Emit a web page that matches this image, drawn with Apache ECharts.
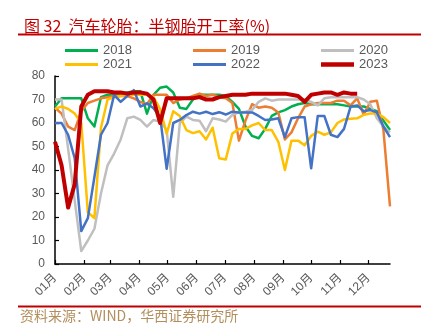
<!DOCTYPE html>
<html>
<head>
<meta charset="utf-8">
<script src="https://cdn.jsdelivr.net/npm/echarts@6/dist/echarts.min.js"></script>
<style>
  html, body { margin: 0; padding: 0; background: #ffffff; }
  #chart { width: 428px; height: 329px; }
</style>
</head>
<body>
<div id="chart"></div>
<script>
// Week positions (day of year) and month boundaries for the x axis
const weekDays = [0,7,14,21,28,35,42,49,56,63,70,77,84,91,98,105,112,119,126,133,140,147,154,161,168,175,182,189,196,203,210,217,224,231,238,245,252,259,266,273,280,287,294,301,308,315,322,329,336,343,350,357];
const monthStarts = [0,31,59,90,120,151,181,212,243,273,304,334];
const monthLabels = ['01月','02月','03月','04月','05月','06月','07月','08月','09月','10月','11月','12月'];
const yTicks = [0,10,20,30,40,50,60,70,80];

// Weekly semi-steel tyre operating rate (%), one array per year
const s2018 = [67,70.5,70.5,70.5,70.5,62,58.5,71,72,72,72.5,73,73.5,73.5,64,72,75,75.5,73,66.5,66,70,72,72,72,72,71.5,69,66,58.5,54.5,53.5,57.5,63,64.5,65.5,67,68,68.5,68,68,68,68,68,67.5,67,67,67,66,65,61,57];
const s2019 = [66.5,64,58.5,57,65,68.5,69.5,70.5,71,71.5,71.5,71.5,70.5,69,68,72,72,72,68.5,70,70.5,71.5,72.5,71.5,72,71,70.5,68.5,52.5,61,68,66.5,67,66.5,64.5,53,56,62,67,68,68.5,68.5,68.5,69.5,69.5,67.5,70.5,63.5,69,69.5,57,24.5];
const s2020 = [70,70,49,27,5.5,10,15,30,42,47,53,62,62.7,61.3,58.5,61.3,60.6,57,28.6,60,62.7,61.3,61,56.5,62,61.5,60.6,63.5,64.5,64.8,65.5,69,70.5,69.5,70,70,70,70,70,69,67.5,70.5,71,71,71,71,71,70,68,62,58.5,56];
const s2021 = [66,67,66,64,60,22,19.5,58,70,71,71.5,72,72,72,72,71,66,55.5,65,63,57,55.7,56.5,53,58,45,44.5,55.5,57.5,57.5,59,60,57,57,52,40,52.5,52.5,50.5,54.5,56.3,55,56,60,61.5,61.8,62,63.5,64,64,62.5,60];
const s2022 = [60,60,55,45,14,19.5,37,55,60,72,69,71.5,74,67,68.4,66.3,62.7,40.5,60,61.3,63.4,64.8,64,64.8,63.8,64.6,63.6,64.8,64.5,64.5,64.5,63,61.3,61.5,62,54,62,62.5,62.5,40.7,63,63,55,54,57.5,67,67.5,65,65.5,64.5,58.5,54];
const s2023 = [52,42,24,34,67,72,73.5,73.5,73.5,73,73,72.5,73,73,72.5,70,60,70.5,70.5,70.5,70.5,70.5,71,70,70,71,71.5,72,72,72,72.5,72.5,72.5,72.5,72.5,72.5,72,71.5,69,72,72.5,73,73,72,73,72.5,72.5];

const seriesNames = ['2018','2019','2020','2021','2022','2023'];
const seriesValues = [s2018, s2019, s2020, s2021, s2022, s2023];
const seriesColors = ['#00B050','#ED7D31','#BFBFBF','#FFC000','#4472C4','#C00000'];
const seriesWidths = [2.5,2.5,2.5,2.5,2.5,4];

const FONT = "'Liberation Sans', 'Noto Sans CJK SC', sans-serif";
const CJK = "'Noto Sans CJK SC', sans-serif";
const GREY = '#595959';

// Flat bar icons for the legend: a thin one, and a thicker one for 2023
const THIN_ICON = 'path://M0,0H33V3H0Z';
const THICK_ICON = 'path://M0,0H33V4.5H0Z';

function pairs(values) {
  return values.map((v, i) => [weekDays[i], v]);
}

function legendItem(name) {
  return { name: name, icon: name === '2023' ? THICK_ICON : THIN_ICON };
}

const chart = echarts.init(document.getElementById('chart'), null, { renderer: 'canvas' });

const legendBase = {
  orient: 'vertical',
  top: 39,
  itemWidth: 33,
  itemHeight: 14,
  itemGap: 1,
  textStyle: { color: GREY, fontSize: 13, fontFamily: FONT },
  selectedMode: false
};

chart.setOption({
  animation: false,
  backgroundColor: '#ffffff',
  title: {
    text: '图 32  汽车轮胎：半钢胎开工率(%)',
    left: 19,
    top: 13,
    textStyle: { color: '#C00000', fontSize: 16, fontWeight: 'normal', fontFamily: CJK }
  },
  graphic: [
    { type: 'line', shape: { x1: 18, y1: 34.5, x2: 421, y2: 34.5 }, style: { stroke: '#C00000', lineWidth: 2 } },
    { type: 'line', shape: { x1: 18, y1: 306.5, x2: 421, y2: 306.5 }, style: { stroke: '#C00000', lineWidth: 2 } },
    { type: 'text', left: 20, top: 309, style: { text: '资料来源：WIND，华西证券研究所', fill: '#B38E5D', font: "14px 'Noto Sans CJK SC', sans-serif" } }
  ],
  legend: [
    Object.assign({}, legendBase, { left: 60, data: ['2018','2021'].map(legendItem) }),
    Object.assign({}, legendBase, { left: 188, data: ['2019','2022'].map(legendItem) }),
    Object.assign({}, legendBase, { left: 316, data: ['2020','2023'].map(legendItem) })
  ],
  grid: { left: 55, right: 38, top: 76, bottom: 65, containLabel: false },
  xAxis: {
    type: 'value',
    min: 0,
    max: 357,
    axisLine: { show: true, lineStyle: { color: '#000000', width: 1.5 } },
    axisTick: { show: true, inside: true, length: 4, customValues: monthStarts, lineStyle: { color: '#000000', width: 1.2 } },
    axisLabel: {
      customValues: monthStarts,
      rotate: 45,
      margin: 12,
      color: GREY,
      fontSize: 12,
      fontFamily: FONT,
      formatter: v => monthLabels[monthStarts.indexOf(v)]
    },
    splitLine: { show: false }
  },
  yAxis: {
    type: 'value',
    min: yTicks[0],
    max: yTicks[yTicks.length - 1],
    interval: 10,
    axisLine: { show: true, lineStyle: { color: '#000000', width: 1.5 } },
    axisTick: { show: true, inside: true, length: 4, lineStyle: { color: '#000000', width: 1.2 } },
    axisLabel: { color: GREY, fontSize: 12, fontFamily: FONT, margin: 10 },
    splitLine: { show: false }
  },
  series: seriesNames.map((name, i) => ({
    name: name,
    type: 'line',
    data: pairs(seriesValues[i]),
    showSymbol: false,
    symbol: 'none',
    color: seriesColors[i],
    lineStyle: { color: seriesColors[i], width: seriesWidths[i], join: 'round' },
    z: 2 + i
  }))
});
</script>
</body>
</html>
